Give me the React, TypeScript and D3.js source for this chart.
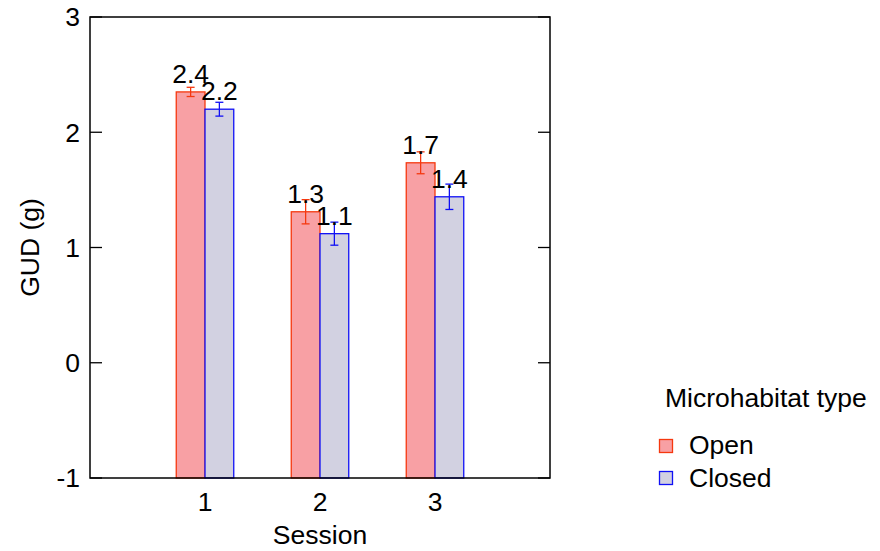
import React from "react";
import * as d3 from "d3";

const sessions = [1, 2, 3];
const seriesNames = ["Open", "Closed"];
const openValues = [2.35, 1.31, 1.735];
const openErrors = [0.04, 0.105, 0.095];
const closedValues = [2.2, 1.12, 1.44];
const closedErrors = [0.06, 0.1, 0.11];
const yTicks = [-1, 0, 1, 2, 3];

const fills = ["#f8a0a4", "#d2d1e1"];
const strokes = ["#f5380f", "#1010f5"];

export default function App() {
  const W = 880, H = 551;
  const left = 90, right = 550, top = 17, bottom = 478;
  const x = d3.scaleLinear().domain([0, 4]).range([left, right]);
  const y = d3.scaleLinear().domain([-1, 3]).range([bottom, top]);
  const bw = x(0.25) - x(0);
  const font = "Liberation Sans, Arial, sans-serif";
  const fs = 26.5;
  const series = [
    { name: seriesNames[0], values: openValues, errors: openErrors },
    { name: seriesNames[1], values: closedValues, errors: closedErrors },
  ];
  return (
    <svg width={W} height={H} style={{ position: "absolute", left: 0, top: 0 }} fontFamily={font}>
      <rect x={0} y={0} width={W} height={H} fill="white" />
      {series.map((s, si) =>
        sessions.map((ses, i) => {
          const x0 = x(ses) + (si === 0 ? -bw : 0);
          const v = s.values[i];
          const e = s.errors[i];
          const cx = x0 + bw / 2;
          return (
            <g key={`${si}-${i}`}>
              <rect x={x0} y={y(v)} width={bw} height={y(-1) - y(v)} fill={fills[si]} stroke={strokes[si]} strokeWidth={1.3} />
              <line x1={cx} x2={cx} y1={y(v + e)} y2={y(v - e)} stroke={strokes[si]} strokeWidth={1.3} />
              <line x1={cx - 4} x2={cx + 4} y1={y(v + e)} y2={y(v + e)} stroke={strokes[si]} strokeWidth={1.3} />
              <line x1={cx - 4} x2={cx + 4} y1={y(v - e)} y2={y(v - e)} stroke={strokes[si]} strokeWidth={1.3} />
              <text x={cx} y={y(v) - 9} textAnchor="middle" fontSize={fs} fill="#000">
                {d3.format(".1f")(v)}
              </text>
            </g>
          );
        })
      )}
      <rect x={left} y={top} width={right - left} height={bottom - top} fill="none" stroke="#000" strokeWidth={1.5} />
      {yTicks.map((t) => (
        <g key={t}>
          <line x1={left} x2={left + 12} y1={y(t)} y2={y(t)} stroke="#000" strokeWidth={1.3} />
          <line x1={right - 12} x2={right} y1={y(t)} y2={y(t)} stroke="#000" strokeWidth={1.3} />
          <text x={left - 10} y={y(t)} dy="0.35em" textAnchor="end" fontSize={fs}>{t}</text>
        </g>
      ))}
      {sessions.map((s) => (
        <text key={s} x={x(s)} y={bottom + 24} dy="0.35em" textAnchor="middle" fontSize={fs}>{s}</text>
      ))}
      <text x={x(2)} y={535} dy="0.35em" textAnchor="middle" fontSize={fs}>Session</text>
      <text transform={`translate(30,${(top + bottom) / 2}) rotate(-90)`} dy="0.35em" textAnchor="middle" fontSize={fs}>GUD (g)</text>
      <text x={665} y={398} dy="0.35em" fontSize={fs}>Microhabitat type</text>
      {seriesNames.map((n, i) => (
        <g key={n}>
          <rect x={659.5} y={439.5 + i * 32} width={13} height={13} fill={fills[i]} stroke={strokes[i]} strokeWidth={1.3} />
          <text x={689} y={445 + i * 33} dy="0.35em" fontSize={fs}>{n}</text>
        </g>
      ))}
    </svg>
  );
}
